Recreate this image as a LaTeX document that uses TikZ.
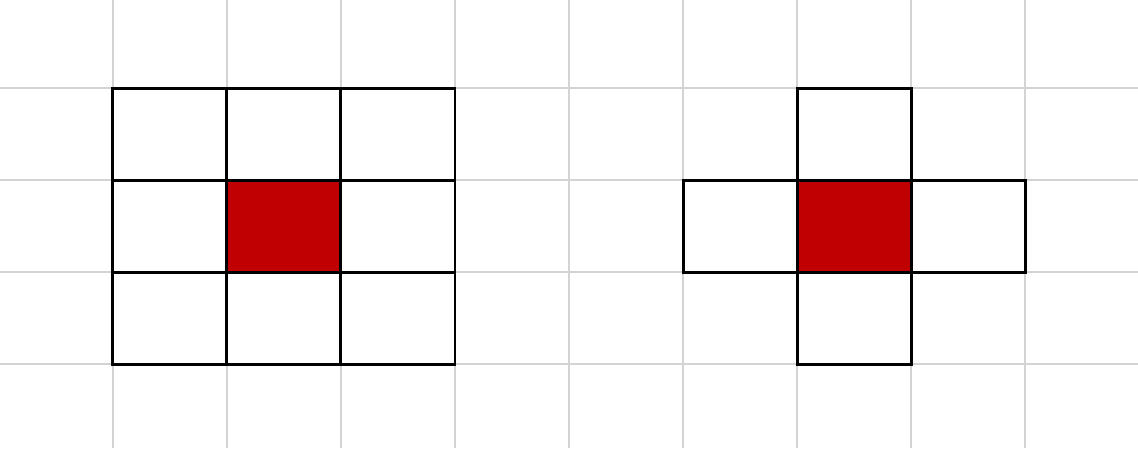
\documentclass[tikz,border=0pt]{standalone}
\usepackage{xcolor}
\definecolor{cellred}{HTML}{C00000}
\definecolor{gridgray}{HTML}{D3D3D3}
\tikzset{
    bgline/.style={gridgray, line width=1.1pt},
    cellbox/.style={draw=black, line width=1.7pt},
}

\begin{document}
\begin{tikzpicture}[x=2.28cm, y=1.84cm]
            \useasboundingbox (-0.991,-0.913) rectangle (8.991,3.957);
            \foreach \i in {0,...,8} \draw[bgline] (\i,-0.913)--(\i,3.957);
            \foreach \j in {0,...,3} \draw[bgline] (-0.991,\j)--(8.991,\j);
            % left block
            \fill[cellred] (1,1) rectangle (2,2);
            \foreach \i in {0,1,2} \foreach \j in {0,1,2} \draw[cellbox] (\i,\j) rectangle +(1,1);
            % right cross
            \fill[cellred] (6,1) rectangle (7,2);
            \draw[cellbox] (5,1) rectangle (8,2);
            \draw[cellbox] (6,0) rectangle (7,3);
        \end{tikzpicture}
\end{document}
